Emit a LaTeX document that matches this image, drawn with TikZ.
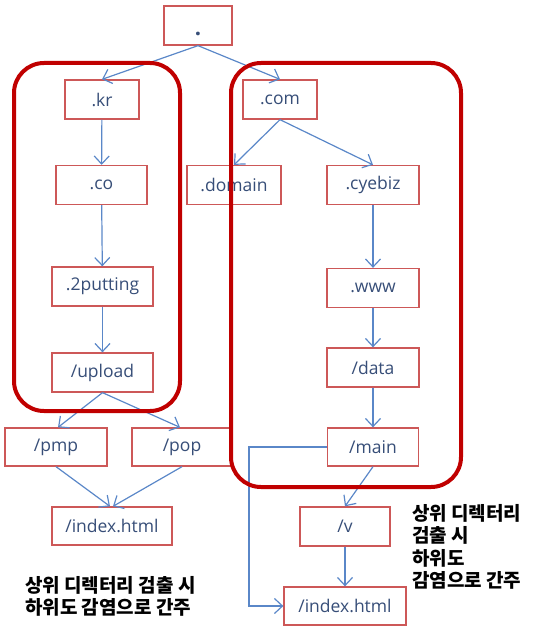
\documentclass[tikz,border=0pt]{standalone}
\usepackage{fontspec}
\setmainfont{Open Sans}
\newfontfamily\kr{Noto Sans CJK KR}
\usetikzlibrary{arrows.meta}
\definecolor{boxred}{RGB}{205,88,88}
\definecolor{txtblue}{RGB}{55,78,120}
\definecolor{arrblue}{RGB}{90,135,200}
\definecolor{thickred}{RGB}{192,0,0}
\begin{document}
\begin{tikzpicture}[x=1pt,y=-1pt,
  box/.style={draw=boxred, line width=1.3pt, fill=white, text=txtblue,
    font=\fontsize{17.5}{20}\selectfont, inner sep=0pt, minimum height=39},
  conn/.style={draw=arrblue, line width=1.2pt, -{Straight Barb[length=8pt,width=15pt,line width=1.2pt]}},
  grp/.style={draw=thickred, line width=4pt, rounded corners=30pt},
  note/.style={font=\kr\bfseries\fontsize{19}{22.5}\selectfont, text=black, align=left, inner sep=0pt}]
\useasboundingbox (0,0) rectangle (543,626);
% boxes
\node[box, minimum width=68] (root) at (198,25.5) {\raisebox{-10pt}[0pt][0pt]{\fontsize{22}{22}\selectfont\textbf{.}}};
\node[box, minimum width=74] (kr) at (102,99.5) {.kr};
\node[box, minimum width=74] (com) at (280,99.5) {.com};
\node[box, minimum width=91] (co) at (101.5,185) {.co};
\node[box, minimum width=94] (domain) at (234,185) {.domain};
\node[box, minimum width=92] (cyebiz) at (373,185) {.cyebiz};
\node[box, minimum width=101] (putting) at (102.5,286.5) {.2putting};
\node[box, minimum width=101] (upload) at (102.5,372.5) {/upload};
\node[box, minimum width=92] (www) at (373,288) {.www};
\node[box, minimum width=92] (data) at (373,367.5) {/data};
\node[box, minimum width=91, minimum height=38] (main) at (373,447) {/main};
\node[box, minimum width=102, minimum height=38] (pmp) at (56,447) {/pmp};
\node[box, minimum width=100, minimum height=38] (pop) at (182,447) {/pop};
\node[box, minimum width=120, minimum height=38] (idxl) at (112,526) {/index.html};
\node[box, minimum width=90, minimum height=39] (v) at (345,526.5) {/v};
\node[box, minimum width=122, minimum height=38] (idxr) at (345,606) {/index.html};
% connectors
\draw[conn] (root.south) -- (kr.north);
\draw[conn] (root.south) -- (com.north);
\draw[conn] (kr) -- (co);
\draw[conn] (com.south) -- (domain.north);
\draw[conn] (com.south) -- (cyebiz.north);
\draw[conn] (co) -- (putting);
\draw[conn] (putting) -- (upload);
\draw[conn] (upload.south) -- ([xshift=2pt]pmp.north);
\draw[conn] (upload.south) -- ([xshift=-2pt]pop.north);
\draw[conn] (cyebiz) -- (www);
\draw[conn] (www) -- (data);
\draw[conn] (data) -- (main);
\draw[conn] (pmp.south) -- ([xshift=-2pt]idxl.north);
\draw[conn] (pop.south) -- ([xshift=1pt]idxl.north);
\draw[conn] (main.south) -- (v.north);
\draw[conn] (v) -- (idxr);
\coordinate (bend1) at (249,447);
\coordinate (bend2) at (249,606);
\draw[conn] (main.west) -- (bend1) -- (bend2) -- (idxr.west);
% group outlines
\draw[grp] (14,63) rectangle (180,411);
\draw[grp] (231,63) rectangle (461,487);
% notes
\node[note, anchor=north west] (noteL) at (25,576) {상위 디렉터리 검출 시\\하위도 감염으로 간주};
\node[note, anchor=north west] (noteR) at (412,504) {상위 디렉터리\\검출 시\\하위도\\감염으로 간주};
\end{tikzpicture}
\end{document}
